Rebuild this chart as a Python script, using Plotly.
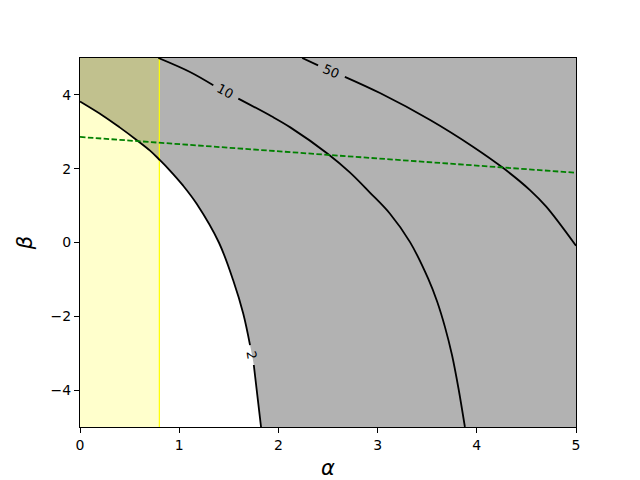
import plotly.graph_objects as go

# contour lines (alpha, beta); the gap index marks the label break
c2_x = [0.0, 0.235, 0.40, 0.57, 0.706, 0.806, 0.907, 1.04, 1.176, 1.40, 1.545, 1.646, 1.714, 1.752, 1.788, 1.825]
c2_y = [3.82, 3.43, 3.12, 2.78, 2.49, 2.23, 1.95, 1.54, 1.05, 0.0, -1.03, -1.93, -2.78, -3.32, -4.15, -5.0]
c2_gap = 13

c10_x = [0.79, 1.109, 1.344, 1.596, 1.93, 2.12, 2.50, 2.72, 2.92, 3.125, 3.327, 3.51, 3.60, 3.68, 3.75, 3.815, 3.88]
c10_y = [5.0, 4.62, 4.26, 3.90, 3.42, 3.12, 2.40, 1.90, 1.36, 0.78, 0.01, -0.98, -1.60, -2.30, -3.05, -3.95, -5.0]
c10_gap = 3

c50_x = [2.24, 2.40, 2.67, 3.024, 3.53, 3.965, 4.27, 4.536, 4.70, 5.0]
c50_y = [5.0, 4.80, 4.49, 4.05, 3.32, 2.59, 2.01, 1.42, 0.97, -0.09]
c50_gap = 2

# contour labels
lbl_text = ["2", "10", "50"]
lbl_x = [1.735, 1.47, 2.535]
lbl_y = [-3.05, 4.10, 4.645]
lbl_angle = [81, 28, 23]

# dashed green line
g_x = [0.0, 5.0]
g_y = [2.86, 1.89]

# shaded band
span_x0, span_x1 = 0.0, 0.8

x_ticks = [0, 1, 2, 3, 4, 5]
y_ticks = [-4, -2, 0, 2, 4]
y_ticktext = ["\u22124", "\u22122", "0", "2", "4"]


def split(xs, ys, k):
    return xs[:k] + [None] + xs[k:], ys[:k] + [None] + ys[k:]


fig = go.Figure()

# gray region outside the level-2 contour; closed through points beyond the axes
# so the smoothed outline only bends where it is clipped away
fig.add_trace(go.Scatter(
    x=[-0.235] + c2_x + [1.87, 6, 6, -1],
    y=[4.21] + c2_y + [-5.8, -6, 6, 6],
    fill="toself", fillcolor="#b2b2b2", mode="lines",
    line=dict(width=0, shape="spline", smoothing=1), hoverinfo="skip"))

# yellow span
fig.add_trace(go.Scatter(
    x=[span_x0, span_x1, span_x1, span_x0], y=[-5, -5, 5, 5],
    fill="toself", fillcolor="rgba(255,255,0,0.2)", mode="none", hoverinfo="skip"))
fig.add_trace(go.Scatter(
    x=[span_x1, span_x1], y=[-5, 5], mode="lines",
    line=dict(color="#ffff00", width=1.2)))

for xs, ys, k in [(c2_x, c2_y, c2_gap), (c10_x, c10_y, c10_gap), (c50_x, c50_y, c50_gap)]:
    lx, ly = split(xs, ys, k)
    fig.add_trace(go.Scatter(x=lx, y=ly, mode="lines",
                             line=dict(color="black", width=1.8, shape="spline", smoothing=1),
                             connectgaps=False))

fig.add_trace(go.Scatter(x=g_x, y=g_y, mode="lines",
                         line=dict(color="green", width=1.8, dash="5.5px,2.4px")))

for t, x, y, a in zip(lbl_text, lbl_x, lbl_y, lbl_angle):
    fig.add_annotation(x=x, y=y, text=t, textangle=a, showarrow=False,
                       font=dict(size=13, color="black", family="DejaVu Sans"))

axis_style = dict(showline=True, linecolor="black", linewidth=1, mirror=True,
                  ticks="outside", ticklen=5, tickwidth=1, tickcolor="black",
                  showgrid=False, zeroline=False, automargin=False,
                  tickfont=dict(size=14, color="black", family="DejaVu Sans"))

fig.update_xaxes(range=[0, 5], tickvals=x_ticks,
                 title=dict(text="<i>α</i>", font=dict(size=21, family="DejaVu Sans", color="black"), standoff=8),
                 **axis_style)
fig.update_yaxes(range=[-5, 5], tickvals=y_ticks, ticktext=y_ticktext,
                 title=dict(text="<i>β</i>", font=dict(size=21, family="DejaVu Sans", color="black"), standoff=12),
                 **axis_style)

# the page puts the figure 8px in from the corner, so size it to end at 640x480
fig.update_layout(width=632, height=472, showlegend=False,
                  plot_bgcolor="white", paper_bgcolor="white",
                  margin=dict(l=72, r=64, t=50, b=53))

fig.write_html("out.html")
